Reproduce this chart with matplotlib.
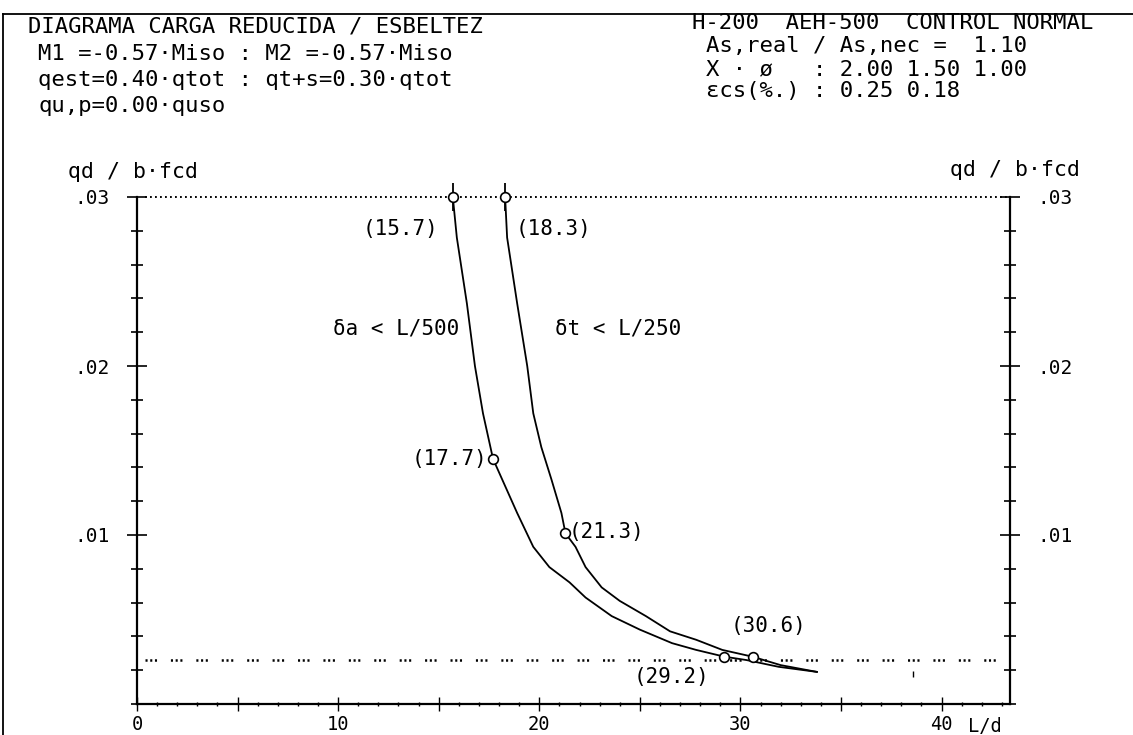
import matplotlib
matplotlib.use("Agg")
import matplotlib.pyplot as plt
from matplotlib.lines import Line2D
from matplotlib.ticker import MultipleLocator, FuncFormatter

# ---- data ----------------------------------------------------------------
# deflection limit delta_a < L/500
ld_a = [15.7, 15.9, 16.4, 16.8, 17.2, 17.7, 18.9, 19.7, 20.5, 21.5, 22.3,
        23.6, 25.0, 26.6, 27.8, 29.2, 30.3, 31.9, 33.8]
q_a = [0.0300, 0.0276, 0.0237, 0.0200, 0.0172, 0.0145, 0.0113, 0.0093,
       0.0081, 0.0072, 0.0063, 0.0052, 0.0044, 0.0036, 0.0032, 0.0028,
       0.0026, 0.0022, 0.0019]

# deflection limit delta_t < L/250
ld_t = [18.3, 18.4, 18.9, 19.4, 19.7, 20.1, 20.6, 21.1, 21.3, 21.8, 22.3,
        23.1, 24.0, 25.3, 26.5, 27.8, 29.1, 30.6, 32.0, 33.8]
q_t = [0.0300, 0.0276, 0.0237, 0.0200, 0.0172, 0.0152, 0.0133, 0.0113,
       0.0101, 0.0093, 0.0081, 0.0069, 0.0061, 0.0052, 0.0043, 0.0038,
       0.0032, 0.0028, 0.0023, 0.0019]

# marked points (slenderness values written next to them)
top_pts_x = [15.7, 18.3]
top_pts_q = [0.0300, 0.0300]
mid_pts_x = [17.7, 21.3]
mid_pts_q = [0.0145, 0.0101]
low_pts_x = [29.2, 30.6]
low_pts_q = [0.0028, 0.0028]

q_upper = 0.0300      # upper load level
q_lower = 0.0026      # lower load level

x_max = 43.4
y_ticks = [0.01, 0.02, 0.03]
y_tick_labels = [".01", ".02", ".03"]
x_tick_labels = ["0", "10", "20", "30", "40"]

header_left = ["DIAGRAMA CARGA REDUCIDA / ESBELTEZ",
               "M1 =-0.57·Miso : M2 =-0.57·Miso",
               "qest=0.40·qtot : qt+s=0.30·qtot",
               "qu,p=0.00·quso"]
header_right = ["H-200  AEH-500  CONTROL NORMAL",
                "As,real / As,nec =  1.10",
                "X · ø   : 2.00 1.50 1.00",
                "εcs(%.) : 0.25 0.18"]

# ---- figure ----------------------------------------------------------------
W, H = 1133, 735
plt.rcParams["font.family"] = ["DejaVu Sans Mono", "DejaVu Sans"]
plt.rcParams["lines.scale_dashes"] = False
fig = plt.figure(figsize=(W / 100, H / 100), dpi=100)
fig.patch.set_facecolor("white")


def fx(px):
    return px / W


def fy(py):
    return 1 - py / H


# page frame
fig.add_artist(Line2D([fx(3), fx(3)], [fy(14), fy(H + 5)], color="black", lw=1.3))
fig.add_artist(Line2D([fx(3), fx(W + 5)], [fy(14), fy(14)], color="black", lw=1.3))

# header blocks
hl_y = [27, 54, 80, 106]
hl_x = [28, 38, 38, 38]
for t, x, y in zip(header_left, hl_x, hl_y):
    fig.text(fx(x), fy(y), t, fontsize=16, ha="left", va="center")
hr_y = [23, 46, 69, 91]
hr_x = [692, 706, 706, 706]
for t, x, y in zip(header_right, hr_x, hr_y):
    fig.text(fx(x), fy(y), t, fontsize=16, ha="left", va="center")

# axis titles
fig.text(fx(68), fy(172), "qd / b·fcd", fontsize=15.5, ha="left", va="center")
fig.text(fx(950), fy(170), "qd / b·fcd", fontsize=15.5, ha="left", va="center")

ax = fig.add_axes([fx(137), fy(704), fx(1010) - fx(137), fy(197) - fy(704)])
ax.set_xlim(0, x_max)
ax.set_ylim(0, 0.03)
ax.spines["top"].set_visible(False)
for s in ("left", "right", "bottom"):
    ax.spines[s].set_linewidth(1.6)

# ticks
ax.yaxis.set_minor_locator(MultipleLocator(0.002))
ax.set_yticks(y_ticks)
ax.set_yticklabels(y_tick_labels)
ax.xaxis.set_major_locator(MultipleLocator(5))
ax.xaxis.set_minor_locator(MultipleLocator(1))


def x_label(v, pos):
    k = int(round(v / 10))
    if abs(v - 10 * k) < 1e-6 and 0 <= k < len(x_tick_labels):
        return x_tick_labels[k]
    return ""


ax.xaxis.set_major_formatter(FuncFormatter(x_label))

ax.tick_params(axis="y", which="major", direction="inout", length=15, width=1.2,
               left=True, right=True, labelleft=True, labelright=True,
               labelsize=14, pad=12)
ax.tick_params(axis="y", which="minor", direction="inout", length=9, width=1.2,
               left=True, right=True)
ax.tick_params(axis="x", which="major", direction="inout", length=10, width=1.0,
               labelsize=13.5, pad=3)
ax.tick_params(axis="x", which="minor", direction="inout", length=3, width=1.0)

# axis name next to the last x label, on the same baseline
ax.annotate("L/d", xy=(41.3, 0), xycoords=ax.get_xaxis_transform(),
            xytext=(0, -9.5), textcoords="offset points", fontsize=13.5,
            ha="left", va="top", annotation_clip=False)

# load levels
ax.plot([0.4, x_max], [q_upper, q_upper], color="black", lw=1.4,
        dashes=(1.3, 2.3), clip_on=False)
ax.plot([0.4, x_max], [q_lower, q_lower], color="black", lw=1.8,
        dashes=(1.5, 1.9, 1.5, 1.9, 1.5, 10.0), clip_on=False)

# limit curves
ax.plot(ld_a, q_a, color="black", lw=1.3, clip_on=False)
ax.plot(ld_t, q_t, color="black", lw=1.3, clip_on=False)

# marked points
mk = dict(marker="o", ms=7, mfc="white", mec="black", mew=1.2, ls="none",
          clip_on=False, zorder=5)
ax.plot(top_pts_x, top_pts_q, marker="|", ms=20, mew=1.3, color="black",
        ls="none", clip_on=False, zorder=4)
ax.plot(top_pts_x, top_pts_q, **mk)
ax.plot(mid_pts_x, mid_pts_q, **mk)
ax.plot(low_pts_x, low_pts_q, **mk)

fs = 15
ax.text(top_pts_x[0] - 0.7, 0.0281, f"({top_pts_x[0]})", fontsize=fs, ha="right", va="center")
ax.text(top_pts_x[1] + 0.5, 0.0281, f"({top_pts_x[1]})", fontsize=fs, ha="left", va="center")
ax.text(mid_pts_x[0] - 0.3, mid_pts_q[0], f"({mid_pts_x[0]})", fontsize=fs, ha="right", va="center")
ax.text(mid_pts_x[1] + 0.15, mid_pts_q[1] + 0.0001, f"({mid_pts_x[1]})", fontsize=fs, ha="left", va="center")
ax.text(29.5, 0.0046, f"({low_pts_x[1]})", fontsize=fs, ha="left", va="center")
ax.text(24.7, 0.0016, f"({low_pts_x[0]})", fontsize=fs, ha="left", va="center")

ax.text(16.0, 0.0222, "δa < L/500", fontsize=fs, ha="right", va="center")
ax.text(20.8, 0.0222, "δt < L/250", fontsize=fs, ha="left", va="center")

# small speck mark near the lower right
ax.plot([38.6], [0.0018], marker="|", ms=4, color="black", ls="none")

fig.savefig("out.png", dpi=100, facecolor="white")
